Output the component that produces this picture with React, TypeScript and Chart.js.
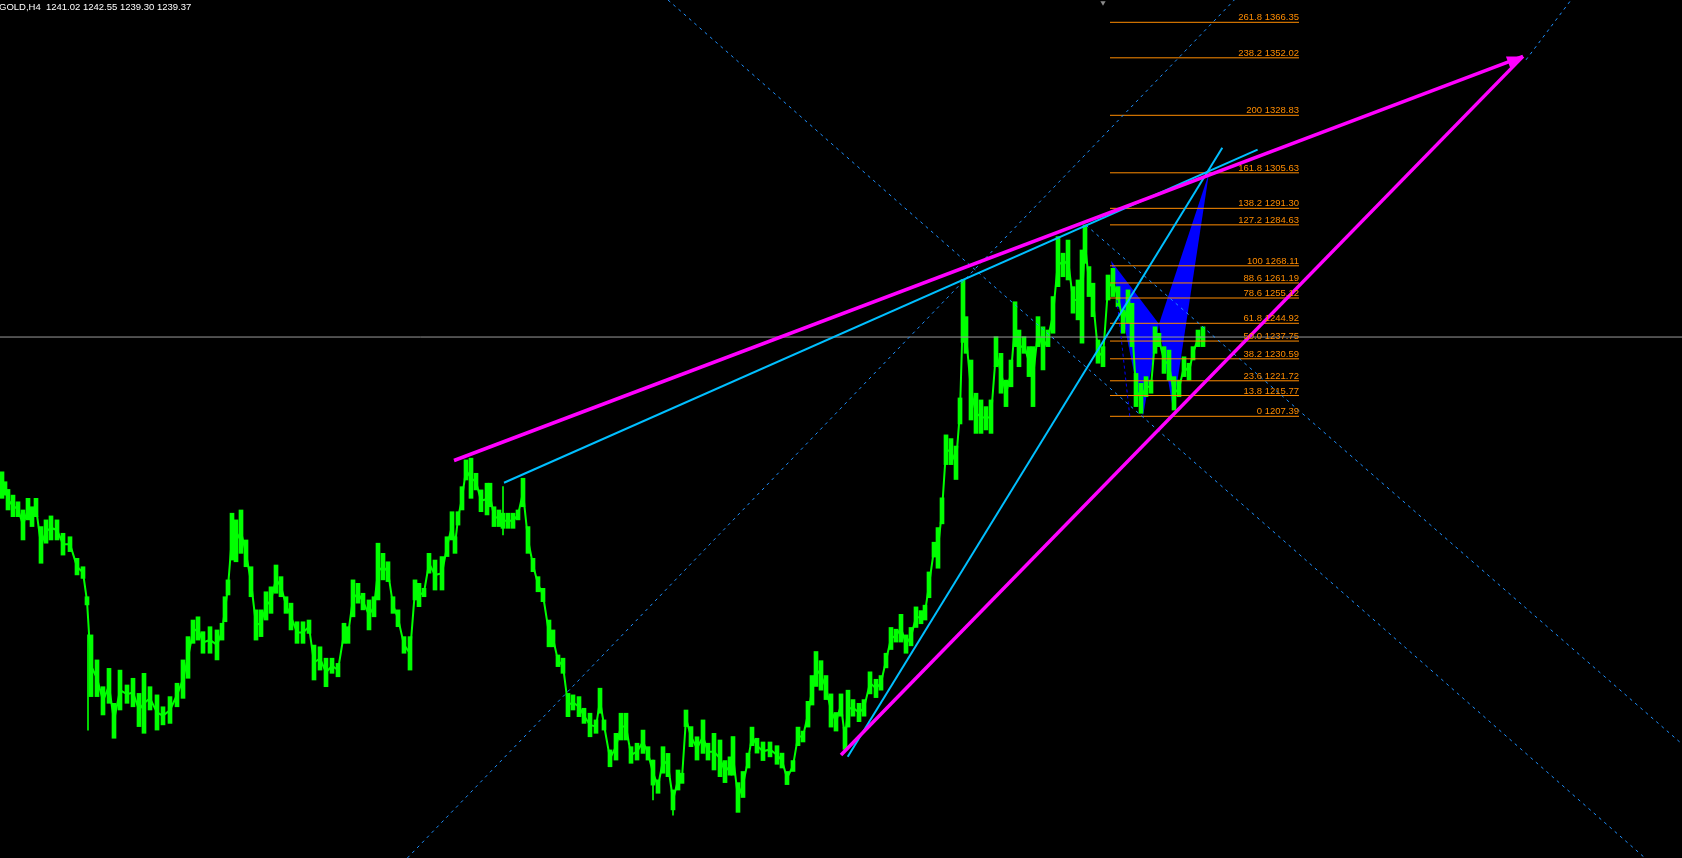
import React, { useEffect, useRef } from 'react';
import { Chart, registerables } from 'chart.js';

Chart.register(...registerables);

// ---- header ----
const SYMBOL = 'GOLD,H4';
const QUOTE = ['1241.02', '1242.55', '1239.30', '1239.37'];

// ---- visible window (bar index / price) ----
const X_MIN = 0;
const X_MAX = 1682;
const Y_MIN = 1029.19;
const Y_MAX = 1375.35;

// ---- price bars (bar index, high, low) ----
const barX = [
  2, 5, 8, 13, 18, 23, 28, 32, 36, 41, 46, 51, 57, 63, 70, 77, 83, 87, 91, 97,
  103, 109, 114, 120, 127, 133, 139, 144, 150, 157, 163, 170, 177, 183, 188, 193, 198, 203, 210, 217,
  222, 225, 228, 232, 236, 241, 246, 251, 256, 261, 266, 271, 276, 281, 286, 291, 297, 303, 309, 314,
  320, 326, 332, 338, 344, 348, 353, 358, 363, 369, 374, 378, 383, 388, 393, 398, 404, 410, 415, 419,
  424, 429, 435, 442, 447, 452, 455, 458, 462, 466, 471, 476, 481, 487, 490, 494, 499, 503, 508, 513,
  518, 523, 528, 533, 538, 543, 549, 553, 558, 563, 568, 573, 579, 584, 590, 596, 600, 604, 610, 616,
  621, 626, 631, 637, 643, 648, 653, 658, 663, 668, 673, 678, 682, 686, 691, 697, 703, 708, 714, 720,
  725, 730, 733, 738, 743, 748, 752, 757, 763, 770, 777, 782, 787, 793, 798, 803, 808, 812, 816, 821,
  826, 831, 836, 841, 845, 848, 853, 859, 864, 870, 876, 881, 886, 891, 896, 901, 906, 911, 916, 921,
  925, 929, 934, 938, 942, 946, 951, 956, 960, 963, 966, 971, 976, 981, 986, 991, 996, 1001, 1006, 1011,
  1015, 1019, 1024, 1029, 1033, 1038, 1043, 1048, 1053, 1058, 1063, 1068, 1073, 1078, 1082, 1085, 1089, 1093, 1098, 1103,
  1108, 1113, 1118, 1123, 1128, 1132, 1136, 1141, 1146, 1151, 1155, 1159, 1164, 1169, 1174, 1179, 1184, 1189, 1193, 1198,
  1203,
];
const barHigh = [
  1185.0, 1181.0, 1177.9, 1175.6, 1172.9, 1169.6, 1174.3, 1170.9, 1174.3, 1162.9,
  1165.6, 1167.2, 1165.6, 1160.2, 1158.8, 1150.1, 1146.7, 1134.6, 1119.2, 1109.1,
  1098.3, 1105.7, 1091.6, 1105.0, 1099.0, 1101.7, 1095.6, 1103.7, 1098.3, 1095.0,
  1090.2, 1094.3, 1099.7, 1109.1, 1118.5, 1125.2, 1126.5, 1120.5, 1122.5, 1121.2,
  1123.9, 1134.6, 1141.4, 1168.3, 1165.6, 1169.6, 1157.5, 1146.7, 1129.3, 1129.3,
  1136.6, 1138.6, 1147.4, 1142.7, 1134.6, 1132.0, 1124.5, 1124.5, 1125.2, 1115.1,
  1114.4, 1109.8, 1109.8, 1107.7, 1123.9, 1122.5, 1141.4, 1140.0, 1136.0, 1133.3,
  1134.6, 1156.2, 1152.1, 1148.7, 1134.6, 1129.3, 1118.5, 1118.5, 1141.4, 1140.0,
  1138.0, 1152.1, 1149.4, 1150.8, 1158.8, 1168.9, 1158.8, 1168.9, 1179.0, 1189.8,
  1190.5, 1184.4, 1177.7, 1180.4, 1180.4, 1170.9, 1169.6, 1168.3, 1168.3, 1168.3,
  1169.6, 1182.4, 1162.9, 1150.1, 1142.7, 1138.0, 1125.2, 1121.2, 1111.1, 1109.8,
  1095.6, 1095.0, 1094.3, 1089.6, 1087.6, 1084.9, 1097.7, 1084.9, 1072.8, 1079.5,
  1087.6, 1087.6, 1074.1, 1075.5, 1080.8, 1074.1, 1068.7, 1060.7, 1074.1, 1071.4,
  1056.6, 1064.7, 1063.4, 1088.9, 1082.2, 1078.1, 1084.9, 1075.5, 1079.5, 1076.8,
  1068.5, 1070.0, 1078.2, 1059.6, 1064.1, 1071.5, 1082.0, 1077.5, 1076.0, 1076.0,
  1074.5, 1071.5, 1064.1, 1068.5, 1082.0, 1080.4, 1092.4, 1102.8, 1112.5, 1108.8,
  1102.8, 1095.4, 1087.9, 1095.4, 1082.0, 1096.9, 1093.1, 1091.6, 1093.1, 1104.3,
  1101.3, 1102.8, 1111.8, 1122.2, 1121.5, 1127.5, 1119.2, 1122.2, 1130.5, 1129.0,
  1131.2, 1144.6, 1156.6, 1162.5, 1174.5, 1199.9, 1198.4, 1195.4, 1214.8, 1262.6,
  1247.6, 1230.1, 1216.7, 1214.0, 1211.3, 1214.0, 1239.5, 1232.8, 1222.0, 1230.1,
  1253.6, 1242.2, 1239.5, 1235.5, 1235.5, 1247.6, 1243.5, 1242.2, 1255.7, 1279.9,
  1273.2, 1278.5, 1259.7, 1262.4, 1274.5, 1284.6, 1267.8, 1261.1, 1238.2, 1235.5,
  1264.4, 1267.1, 1259.7, 1250.3, 1258.4, 1253.0, 1224.7, 1220.7, 1223.4, 1222.0,
  1243.5, 1240.9, 1235.5, 1234.1, 1223.4, 1222.0, 1231.4, 1228.8, 1235.5, 1242.2,
  1243.5,
];
const barLow = [
  1174.3, 1175.6, 1169.6, 1166.9, 1166.9, 1157.5, 1165.6, 1162.9, 1166.9, 1148.1,
  1156.2, 1157.5, 1157.5, 1151.4, 1152.8, 1143.4, 1142.0, 1131.3, 1094.3, 1094.3,
  1086.9, 1091.6, 1077.5, 1088.9, 1091.6, 1090.2, 1082.2, 1079.5, 1088.9, 1080.8,
  1082.9, 1083.5, 1090.2, 1093.6, 1101.7, 1115.8, 1117.1, 1111.8, 1111.8, 1109.1,
  1117.1, 1124.5, 1135.3, 1149.4, 1148.7, 1152.1, 1146.7, 1134.6, 1117.1, 1118.5,
  1125.2, 1127.9, 1136.0, 1134.6, 1127.9, 1121.2, 1115.8, 1115.8, 1119.8, 1101.0,
  1105.0, 1098.3, 1103.7, 1102.3, 1115.8, 1115.8, 1126.5, 1132.0, 1129.3, 1121.2,
  1126.5, 1133.3, 1141.4, 1140.7, 1127.9, 1122.5, 1111.8, 1105.0, 1133.3, 1130.6,
  1134.6, 1144.1, 1137.3, 1137.3, 1150.8, 1157.5, 1152.1, 1163.5, 1169.6, 1181.7,
  1174.3, 1177.7, 1168.9, 1167.6, 1170.9, 1162.9, 1162.9, 1162.2, 1162.2, 1162.2,
  1165.6, 1170.9, 1152.1, 1144.7, 1136.6, 1132.6, 1114.4, 1114.4, 1106.4, 1103.7,
  1086.2, 1088.9, 1086.2, 1083.5, 1078.1, 1079.5, 1087.6, 1080.8, 1066.0, 1068.7,
  1076.8, 1076.8, 1067.4, 1068.7, 1071.4, 1068.7, 1058.6, 1055.3, 1063.4, 1062.0,
  1048.6, 1056.6, 1059.3, 1082.2, 1074.1, 1068.7, 1071.4, 1068.7, 1064.7, 1062.0,
  1059.6, 1062.6, 1062.6, 1047.6, 1053.6, 1065.5, 1074.5, 1071.5, 1068.5, 1070.0,
  1067.0, 1065.5, 1058.8, 1064.1, 1074.5, 1076.0, 1082.0, 1090.9, 1098.4, 1096.9,
  1093.1, 1082.0, 1080.4, 1086.4, 1073.0, 1082.0, 1086.4, 1084.2, 1086.4, 1095.4,
  1093.9, 1096.9, 1105.9, 1113.3, 1116.3, 1116.3, 1111.8, 1114.8, 1122.2, 1123.7,
  1125.2, 1134.2, 1150.6, 1146.1, 1164.0, 1187.9, 1187.9, 1181.9, 1204.3, 1237.2,
  1232.8, 1205.9, 1200.5, 1200.5, 1201.9, 1200.5, 1227.4, 1216.7, 1211.3, 1219.3,
  1235.5, 1227.4, 1232.8, 1223.4, 1211.3, 1235.5, 1226.1, 1235.5, 1240.9, 1259.7,
  1263.7, 1262.4, 1249.0, 1246.3, 1236.9, 1269.1, 1255.7, 1247.6, 1228.8, 1227.4,
  1254.3, 1255.7, 1251.6, 1240.9, 1244.9, 1235.5, 1211.3, 1208.6, 1215.3, 1216.7,
  1232.8, 1235.5, 1224.7, 1222.0, 1209.9, 1215.3, 1223.4, 1222.0, 1230.1, 1235.5,
  1235.5,
];
// single-bar spikes
const wickX = [88, 503, 653, 673];
const wickHigh = [1119.2, 1179.0, 1068.7, 1056.6];
const wickLow = [1080.8, 1159.5, 1052.6, 1046.5];

// ---- bid line ----
const bidPrice = 1239.37;

// ---- Fibonacci retracement ----
const fibLevels = ['0', '13.8', '23.6', '38.2', '50.0', '61.8', '78.6', '88.6', '100', '127.2', '138.2', '161.8', '200', '238.2', '261.8'];
const fibPrices = [1207.39, 1215.77, 1221.72, 1230.59, 1237.75, 1244.92, 1255.12, 1261.19, 1268.11, 1284.63, 1291.30, 1305.63, 1328.83, 1352.02, 1366.35];
const fibFromBar = 1110;
const fibToBar = 1299;

// ---- harmonic pattern X, A, B, C, D ----
const patternBar = [1111, 1143, 1159, 1173, 1209];
const patternPrice = [1270.2, 1207.39, 1244.6, 1209.9, 1305.6];

// ---- trend lines [bar, price] ----
const magentaUpper = [[454, 1189.56], [1523, 1352.6]];
const magentaLower = [[841, 1070.75], [1523, 1352.6]];
const cyanUpper = [[504, 1180.6], [1257.6, 1315.0]];
const cyanSteep = [[847.7, 1070.0], [1222.3, 1315.75]];
// dotted channel lines
const dotUp1 = [[407.4, 1029.19], [1234.3, 1375.35]];
const dotUp2 = [[1526, 1351.2], [1571, 1375.35]];
const dotDown1 = [[1086, 1284.5], [1682, 1075.2]];
const dotDown2 = [[668, 1375.35], [1645, 1029.19]];
const patternDash = [[1117, 1254.3], [1130, 1206.7]];
// small marker at the top edge
const topMarker = { x: 1103, y: 1374.2 };

const App = () => {
  const ref = useRef<HTMLCanvasElement>(null);

  useEffect(() => {
    const canvas = ref.current;
    if (!canvas) return;

    const line = (pts: number[][], color: string, width: number, order: number, dash: number[] = []) => ({
      type: 'line' as const,
      data: pts.map(([x, y]) => ({ x, y })),
      borderColor: color,
      backgroundColor: color,
      borderWidth: width,
      borderDash: dash,
      pointRadius: 0,
      pointHoverRadius: 0,
      fill: false,
      tension: 0,
      order,
    });

    const overlay = {
      id: 'overlay',
      beforeDatasetsDraw(chart: any) {
        const { ctx, scales } = chart;
        const p = (i: number) => [scales.x.getPixelForValue(patternBar[i]), scales.y.getPixelForValue(patternPrice[i])];
        ctx.save();
        ctx.fillStyle = '#0000ff';
        const tri = (a: number, b: number, c: number) => {
          ctx.beginPath();
          const [x1, y1] = p(a);
          const [x2, y2] = p(b);
          const [x3, y3] = p(c);
          ctx.moveTo(x1, y1);
          ctx.lineTo(x2, y2);
          ctx.lineTo(x3, y3);
          ctx.closePath();
          ctx.fill();
        };
        tri(0, 1, 2);
        tri(2, 3, 4);
        ctx.restore();
      },
      afterDatasetsDraw(chart: any) {
        const { ctx, scales } = chart;
        ctx.save();
        // arrow head on the upper magenta line
        const [bx, by] = magentaUpper[0];
        const [tx, ty] = magentaUpper[1];
        const x0 = scales.x.getPixelForValue(bx);
        const y0 = scales.y.getPixelForValue(by);
        const x1 = scales.x.getPixelForValue(tx);
        const y1 = scales.y.getPixelForValue(ty);
        const len = Math.hypot(x1 - x0, y1 - y0);
        const ux = (x1 - x0) / len;
        const uy = (y1 - y0) / len;
        const hl = 16;
        const hw = 6;
        ctx.fillStyle = '#ff00ff';
        ctx.beginPath();
        ctx.moveTo(x1, y1);
        ctx.lineTo(x1 - ux * hl - uy * hw, y1 - uy * hl + ux * hw);
        ctx.lineTo(x1 - ux * hl + uy * hw, y1 - uy * hl - ux * hw);
        ctx.closePath();
        ctx.fill();

        // fib labels
        ctx.font = '9.5px "Liberation Sans", Arial, sans-serif';
        ctx.fillStyle = '#ff8c00';
        ctx.textAlign = 'right';
        ctx.textBaseline = 'alphabetic';
        const rx = scales.x.getPixelForValue(fibToBar);
        fibLevels.forEach((lv, i) => {
          const yy = scales.y.getPixelForValue(fibPrices[i]);
          ctx.fillText(`${lv} ${fibPrices[i].toFixed(2)}`, rx, yy - 2);
        });

        // header
        ctx.font = '9.5px "Liberation Sans", Arial, sans-serif';
        ctx.textAlign = 'left';
        ctx.fillStyle = '#ffffff';
        ctx.fillText(`${SYMBOL}  ${QUOTE.join(' ')}`, -1, 10);
        ctx.restore();
      },
    };

    const datasets: any[] = [
      line(magentaUpper, '#ff00ff', 3.5, 1),
      line(magentaLower, '#ff00ff', 3.5, 1),
      line(cyanUpper, '#00bfff', 2, 2),
      line(cyanSteep, '#00bfff', 2, 2),
      line(dotUp1, '#1e90ff', 1, 3, [3, 4]),
      line(dotUp2, '#1e90ff', 1, 3, [3, 4]),
      line(dotDown1, '#1e90ff', 1, 3, [3, 4]),
      line(dotDown2, '#1e90ff', 1, 3, [3, 4]),
      line(patternDash, '#0000ff', 1, 3, [3, 3]),
      line([[X_MIN, bidPrice], [X_MAX, bidPrice]], '#9a9a9a', 1, 4),
      ...fibPrices.map((pr) => line([[fibFromBar, pr], [fibToBar, pr]], '#ff8c00', 1, 5)),
      {
        type: 'scatter' as const,
        data: [topMarker],
        pointStyle: 'triangle',
        rotation: 180,
        radius: 3,
        backgroundColor: '#8c8c8c',
        borderColor: '#8c8c8c',
        borderWidth: 0,
        clip: false,
        order: 6,
      },
      {
        type: 'line' as const,
        data: barX.map((x, i) => ({ x, y: (barHigh[i] + barLow[i]) / 2 })),
        borderColor: '#00ff00',
        borderWidth: 2,
        pointRadius: 0,
        fill: false,
        tension: 0,
        order: 18,
      },
      {
        type: 'bar' as const,
        data: wickX.map((x, i) => ({ x, y: [wickLow[i], wickHigh[i]] })),
        backgroundColor: '#00ff00',
        borderWidth: 0,
        barThickness: 1,
        grouped: false,
        order: 19,
      },
      {
        type: 'bar' as const,
        data: barX.map((x, i) => ({ x, y: [barLow[i], barHigh[i]] })),
        backgroundColor: '#00ff00',
        borderWidth: 0,
        barThickness: 4,
        grouped: false,
        order: 20,
      },
    ];

    const chart = new Chart(canvas, {
      type: 'bar',
      data: { datasets },
      options: {
        responsive: false,
        animation: false,
        devicePixelRatio: 1,
        events: [],
        layout: { padding: 0, autoPadding: false },
        plugins: { legend: { display: false }, tooltip: { enabled: false } },
        scales: {
          x: { type: 'linear', min: X_MIN, max: X_MAX, display: false, offset: false },
          y: { type: 'linear', min: Y_MIN, max: Y_MAX, display: false },
        },
      },
      plugins: [overlay],
    } as any);

    return () => chart.destroy();
  }, []);

  return (
    <div style={{ position: 'fixed', left: 0, top: 0, width: 1682, height: 858, background: '#000' }}>
      <canvas ref={ref} width={1682} height={858} style={{ display: 'block' }} />
    </div>
  );
};

export default App;
